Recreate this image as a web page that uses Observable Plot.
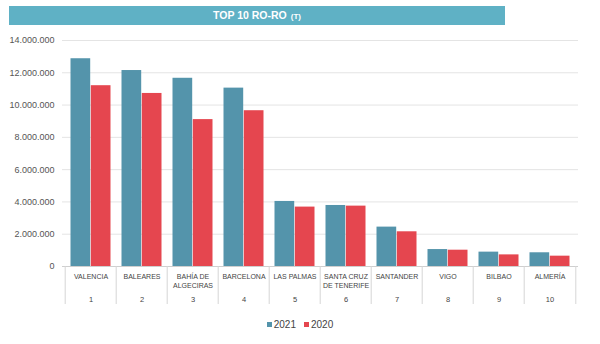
<!DOCTYPE html>
<html>
<head>
<meta charset="utf-8">
<script src="https://cdn.jsdelivr.net/npm/d3@7"></script>
<script src="https://cdn.jsdelivr.net/npm/@observablehq/plot@0.6"></script>
<style>
  html, body { margin: 0; padding: 0; background: #fff; }
  body { width: 600px; height: 344px; overflow: hidden; font-family: "Liberation Sans", Arial, sans-serif; }
  #title { margin: 6px 0 0 9px; width: 496px; height: 19px; background: #5fb1c5; color: #fff;
    display: flex; justify-content: center; align-items: baseline; line-height: 19px;
    font-family: "Liberation Sans Narrow", "Liberation Sans", sans-serif;
    font-weight: bold; font-size: 10.5px; }
  #title .unit { font-size: 8px; font-weight: bold; margin-left: 4px; }
  #chart svg { display: block; margin-top: 5px; }
  #legend { display: flex; justify-content: center; gap: 8px; margin-top: 9px; font-size: 10px; color: #444; line-height: 12px; }
  #legend span.sw { display: inline-block; width: 5px; height: 5px; margin-right: 2px; vertical-align: 1px; }
</style>
</head>
<body>
<div id="title"><span>TOP 10 RO-RO</span><span class="unit">(T)</span></div>
<div id="chart"></div>
<div id="legend"></div>
<script>
const categories = ["VALENCIA", "BALEARES", "BAHÍA DE\nALGECIRAS", "BARCELONA", "LAS PALMAS",
  "SANTA CRUZ\nDE TENERIFE", "SANTANDER", "VIGO", "BILBAO", "ALMERÍA"];
const ranks = ["1", "2", "3", "4", "5", "6", "7", "8", "9", "10"];
const series = ["2021", "2020"];
const values2021 = [12870000, 12140000, 11660000, 11050000, 4030000, 3780000, 2440000, 1050000, 890000, 850000];
const values2020 = [11200000, 10720000, 9100000, 9650000, 3680000, 3740000, 2150000, 1010000, 720000, 640000];
const yTicks = [0, 2000000, 4000000, 6000000, 8000000, 10000000, 12000000, 14000000];
const colors = ["#5494ab", "#e5464f"];

const es = d3.formatLocale({decimal: ",", thousands: ".", grouping: [3], currency: ["", "€"]});
const fmt = es.format(",");

const rows = categories.map((c, i) => ({cat: c, rank: ranks[i], v2021: values2021[i], v2020: values2020[i]}));

const W = 600, H = 280;
const x0 = 62, x1 = 578;
const bw = (x1 - x0) / categories.length;
const pad = 5.5;

const plot = Plot.plot({
  width: W,
  height: H,
  marginTop: 10,
  marginBottom: 6,
  marginLeft: x0,
  marginRight: W - x1,
  style: {fontFamily: "'Liberation Sans', Arial, sans-serif", background: "#fff", overflow: "visible"},
  x: {type: "band", domain: categories, range: [x0, x1], padding: 0, axis: null},
  y: {domain: [0, 14000000], range: [236, 10], axis: null},
  marks: [
    Plot.ruleY(yTicks.filter(d => d > 0), {y: d => d, stroke: "#e4e4e4", strokeWidth: 1}),
    Plot.text(yTicks, {y: d => d, text: d => fmt(d), frameAnchor: "left", textAnchor: "end", dx: -8, fontSize: 9, fill: "#555"}),
    Plot.barY(rows, {x: "cat", y: "v2021", fill: colors[0], insetLeft: pad, insetRight: bw / 2}),
    Plot.barY(rows, {x: "cat", y: "v2020", fill: colors[1], insetLeft: bw / 2, insetRight: pad}),
    Plot.ruleY([0], {stroke: "#cfcfcf", strokeWidth: 1}),
    Plot.tickX(categories, {x: d => d, dx: -bw / 2, insetTop: 226, stroke: "#d6d6d6", strokeWidth: 1}),
    Plot.tickX(categories.slice(-1), {x: d => d, dx: bw / 2, insetTop: 226, stroke: "#d6d6d6", strokeWidth: 1}),
    Plot.text(rows, {x: "cat", y: () => 0, text: "cat", dy: 6, lineAnchor: "top", lineHeight: 1.33,
      fontSize: 7, fill: "#444", fontFamily: "'Liberation Sans', Arial, sans-serif"}),
    Plot.text(rows, {x: "cat", y: () => 0, text: "rank", dy: 33, lineAnchor: "middle", fontSize: 7.5, fill: "#444"})
  ]
});
document.getElementById("chart").appendChild(plot);

const legend = document.getElementById("legend");
series.forEach((s, i) => {
  const item = document.createElement("div");
  const sw = document.createElement("span");
  sw.className = "sw";
  sw.style.background = colors[i];
  item.appendChild(sw);
  item.appendChild(document.createTextNode(s));
  legend.appendChild(item);
});
</script>
</body>
</html>
